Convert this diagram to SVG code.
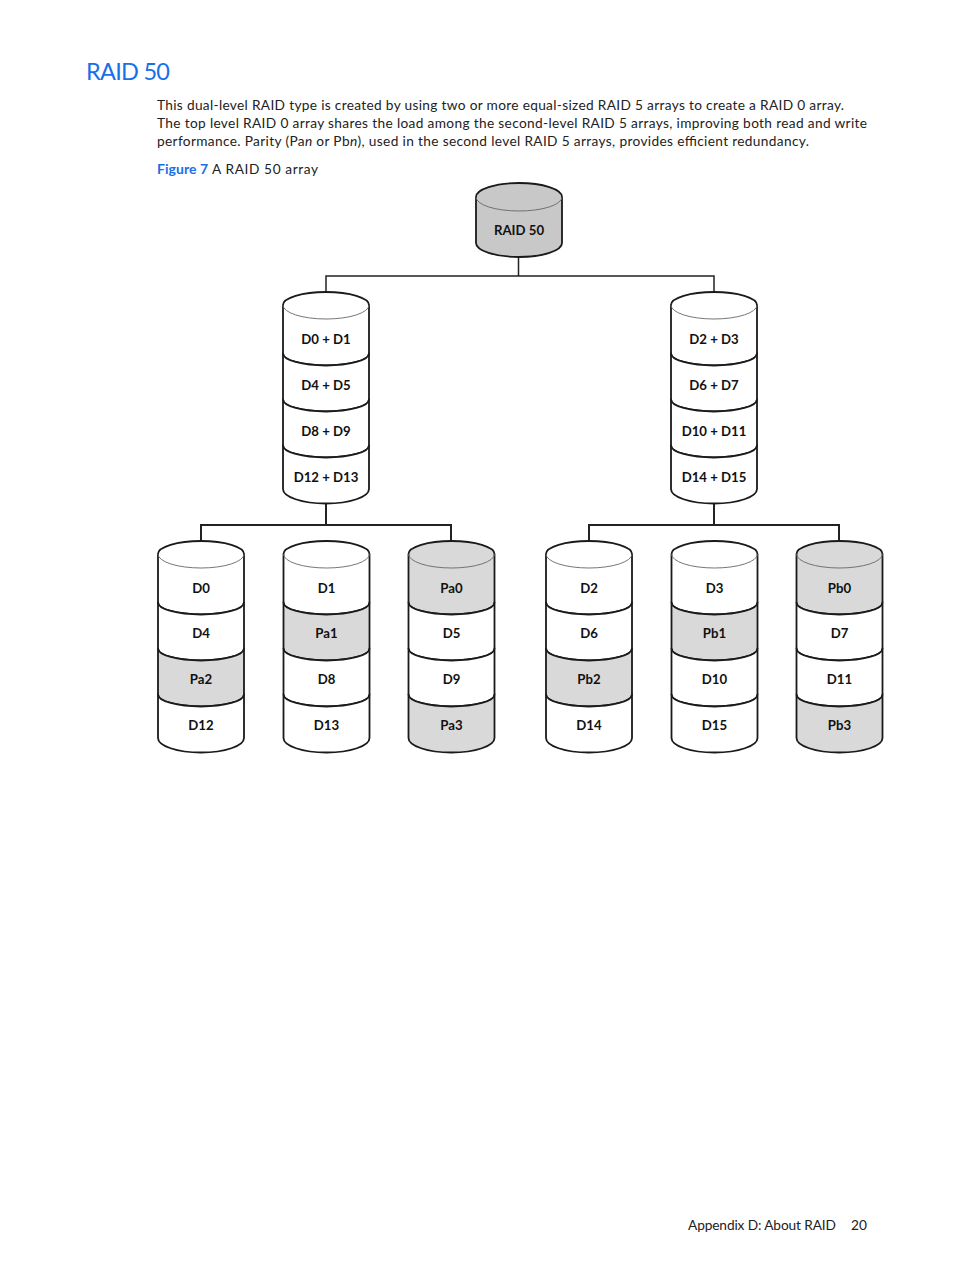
<svg xmlns="http://www.w3.org/2000/svg" width="954" height="1270" viewBox="0 0 954 1270">
<style>
text{font-family:"Lato","Noto Sans","Liberation Sans",sans-serif;fill:#222}
.b{font-size:13.7px}
.h{font-size:23.5px;fill:#1a6fe8}
.f{font-size:14px;font-weight:700;fill:#1a6fe8}
.l{font-family:"Lato","Open Sans",sans-serif;font-size:13.2px;font-weight:700;text-anchor:middle;fill:#111}
.s{stroke:#1a1a1a;stroke-width:1.8;stroke-linejoin:round}
.w{fill:#fff}
.g{fill:#d9d9d9}
.d{fill:#c8c8c8}
.t{fill:none;stroke:#666;stroke-width:.9}
.c{fill:none;stroke:#222}
</style>
<defs>
<path id="s0" class="s" d="M0,13 A43,13 0 0 1 86,13 V61.5 A43,12 0 0 1 0,61.5 Z"/>
<path id="s1" class="s" d="M0,61.5 A43,12 0 0 0 86,61.5 V107.5 A43,12 0 0 1 0,107.5 Z"/>
<path id="s2" class="s" d="M0,107.5 A43,12 0 0 0 86,107.5 V153.5 A43,12 0 0 1 0,153.5 Z"/>
<path id="s3" class="s" d="M0,153.5 A43,12 0 0 0 86,153.5 V197 A43,14.5 0 0 1 0,197 Z"/>
<path id="top" class="t" d="M0,13 A43,14 0 0 0 86,13"/>
</defs>
<text class="h" x="86" y="80" textLength="84">RAID 50</text>
<text class="b" x="157" y="110" textLength="687">This dual-level RAID type is created by using two or more equal-sized RAID 5 arrays to create a RAID 0 array.</text>
<text class="b" x="157" y="128" textLength="710">The top level RAID 0 array shares the load among the second-level RAID 5 arrays, improving both read and write</text>
<text class="b" x="157" y="146" textLength="652">performance. Parity (Pa<tspan font-style="italic">n</tspan> or Pb<tspan font-style="italic">n</tspan>), used in the second level RAID 5 arrays, provides efficient redundancy.</text>
<text class="f" x="157" y="174" textLength="51">Figure 7</text>
<text class="b" x="212" y="174" textLength="106">A RAID 50 array</text>
<g id="connectors">
<path class="c" stroke-width="1.5" d="M518.5,257 V276 M326,292 V276 H714 V292"/>
<path class="c" stroke-width="2" d="M326,504 V525 M201,541 V525 H451 V541"/>
<path class="c" stroke-width="2" d="M714,504 V525 M589,541 V525 H839 V541"/>
</g>
<g id="raid50">
<path class="s d" d="M476,197 A43,14 0 0 1 562,197 V243 A43,14 0 0 1 476,243 Z"/>
<path class="t" d="M476,197 A43,14 0 0 0 562,197"/>
<text class="l" x="519" y="235">RAID 50</text>
</g>
<g id="stack-d0-d13" transform="translate(283,292)">
<use href="#s0" class="w"/><use href="#s1" class="w"/><use href="#s2" class="w"/><use href="#s3" class="w"/><use href="#top"/>
<text class="l" x="43" y="52">D0 + D1</text><text class="l" x="43" y="98">D4 + D5</text><text class="l" x="43" y="144">D8 + D9</text><text class="l" x="43" y="190">D12 + D13</text>
</g>
<g id="stack-d2-d15" transform="translate(671,292)">
<use href="#s0" class="w"/><use href="#s1" class="w"/><use href="#s2" class="w"/><use href="#s3" class="w"/><use href="#top"/>
<text class="l" x="43" y="52">D2 + D3</text><text class="l" x="43" y="98">D6 + D7</text><text class="l" x="43" y="144">D10 + D11</text><text class="l" x="43" y="190">D14 + D15</text>
</g>
<g id="disk-a1" transform="translate(158,541)">
<use href="#s0" class="w"/><use href="#s1" class="w"/><use href="#s2" class="g"/><use href="#s3" class="w"/><use href="#top"/>
<text class="l" x="43" y="52">D0</text><text class="l" x="43" y="97">D4</text><text class="l" x="43" y="143">Pa2</text><text class="l" x="43" y="189">D12</text>
</g>
<g id="disk-a2" transform="translate(283.500,541)">
<use href="#s0" class="w"/><use href="#s1" class="g"/><use href="#s2" class="w"/><use href="#s3" class="w"/><use href="#top"/>
<text class="l" x="43" y="52">D1</text><text class="l" x="43" y="97">Pa1</text><text class="l" x="43" y="143">D8</text><text class="l" x="43" y="189">D13</text>
</g>
<g id="disk-a3" transform="translate(408.500,541)">
<use href="#s0" class="g"/><use href="#s1" class="w"/><use href="#s2" class="w"/><use href="#s3" class="g"/><use href="#top"/>
<text class="l" x="43" y="52">Pa0</text><text class="l" x="43" y="97">D5</text><text class="l" x="43" y="143">D9</text><text class="l" x="43" y="189">Pa3</text>
</g>
<g id="disk-b1" transform="translate(546,541)">
<use href="#s0" class="w"/><use href="#s1" class="w"/><use href="#s2" class="g"/><use href="#s3" class="w"/><use href="#top"/>
<text class="l" x="43" y="52">D2</text><text class="l" x="43" y="97">D6</text><text class="l" x="43" y="143">Pb2</text><text class="l" x="43" y="189">D14</text>
</g>
<g id="disk-b2" transform="translate(671.500,541)">
<use href="#s0" class="w"/><use href="#s1" class="g"/><use href="#s2" class="w"/><use href="#s3" class="w"/><use href="#top"/>
<text class="l" x="43" y="52">D3</text><text class="l" x="43" y="97">Pb1</text><text class="l" x="43" y="143">D10</text><text class="l" x="43" y="189">D15</text>
</g>
<g id="disk-b3" transform="translate(796.500,541)">
<use href="#s0" class="g"/><use href="#s1" class="w"/><use href="#s2" class="w"/><use href="#s3" class="g"/><use href="#top"/>
<text class="l" x="43" y="52">Pb0</text><text class="l" x="43" y="97">D7</text><text class="l" x="43" y="143">D11</text><text class="l" x="43" y="189">Pb3</text>
</g>
<text class="b" x="688" y="1230" textLength="148">Appendix D: About RAID</text>
<text class="b" x="851" y="1230" textLength="16">20</text>
</svg>
